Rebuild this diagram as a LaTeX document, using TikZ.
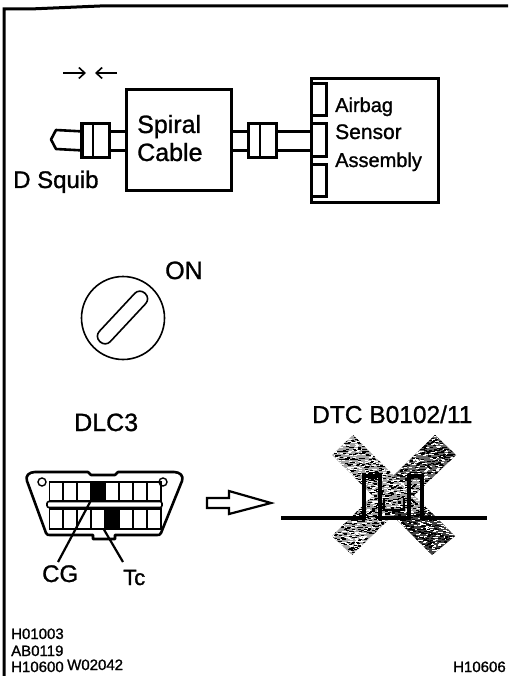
\documentclass[tikz,border=0pt]{standalone}
\usepackage{fontspec}
\setmainfont{Liberation Sans}[RawFeature={embolden=1.1}]
\usetikzlibrary{arrows.meta}
\tikzset{
  ln/.style={draw=black,line width=2.6pt},
  bx/.style={ln,fill=white,inner sep=0pt,anchor=north west,minimum width=#1},
  lbl/.style={anchor=base west,inner sep=0pt,font=\fontsize{#1}{#1}\selectfont},
  pt/.style={-{Straight Barb[length=6pt,width=11pt,line width=1.6pt]},line width=1.8pt},
}
\begin{document}
\begin{tikzpicture}[x=1pt,y=-1pt]
\useasboundingbox (0,0) rectangle (508,676);
% frame
\coordinate (f0) at (4,676); \coordinate (f1) at (4,9); \coordinate (f2) at (30,9);
\coordinate (f3) at (100,6); \coordinate (f4) at (508,6);
\draw[line width=3pt] (f0) -- (f1) -- (f2) -- (f3) -- (f4);
% top row
\coordinate (aR0) at (63,73); \coordinate (aR1) at (86,73);
\coordinate (aL0) at (117,73); \coordinate (aL1) at (95,73);
\draw[pt] (aR0) -- (aR1);
\draw[pt] (aL0) -- (aL1);
\node[bx=105pt,minimum height=101pt,line width=3pt] (spiral) at (125,88) {};
\node[bx=127pt,minimum height=124pt] (sensor) at (310,77) {};
\node[bx=15pt,minimum height=32pt] (s1) at (310,82) {};
\node[bx=15pt,minimum height=33pt] (s2) at (310,122) {};
\node[bx=15pt,minimum height=32pt] (s3) at (310,163) {};
\node[bx=28pt,minimum height=34pt] (c1) at (80,122.5) {};
\node[bx=28pt,minimum height=34pt] (c2) at (247,122.5) {};
\draw[ln] (83,122.5) -- (83,156.5) (93,122.5) -- (93,156.5);
\draw[ln] (260,122.5) -- (260,156.5) ;
\foreach \s in {-9.5,9.5}{
  \draw[ln] ([yshift=\s pt]c1.east) -- ([yshift=\s pt]c1.east -| spiral.west);
  \draw[ln] ([yshift=\s pt]spiral.east |- c2.east) -- ([yshift=\s pt]c2.west);
  \draw[ln] ([yshift=\s pt]c2.east) -- ([yshift=\s pt]c2.east -| s2.west);
}
\coordinate (tip) at (51,139.5);
\draw[ln,line join=round] ([yshift=9.5pt]c1.west) -- (56,130) -- (tip) -- (56,149) -- ([yshift=-9.5pt]c1.west);
\node[lbl=25] (tSpiral) at (137,133) {Spiral};
\node[lbl=25] (tCable) at (137,161) {Cable};
\node[lbl=24] (tSquib) at (13,188) {D Squib};
\node[lbl=20] (tAir) at (335,112) {Airbag};
\node[lbl=21] (tSen) at (335,139) {Sensor};
\node[lbl=20] (tAss) at (335,167) {Assembly};
% key
\node[lbl=25] (tOn) at (165,279) {ON};
\node[draw=black,line width=1.6pt,circle,minimum size=83pt,inner sep=0pt] (key) at (123,318) {};
\node[draw=black,line width=1.6pt,fill=white,rounded corners=7pt,minimum width=66pt,minimum height=15pt,inner sep=0pt,rotate=47] (slot) at (122.5,317.5) {};
% DLC3
\node[lbl=25] (tDlc) at (74,431) {DLC3};
\draw[ln,line join=round] (35,472) -- (88,472) -- (91,475) -- (115,475) -- (118,472) -- (174,472)
  .. controls (180,472) and (184,476) .. (182,481) -- (161,533) .. controls (160,535) and (159,535) .. (157,535)
  -- (115,535) -- (115,539) -- (93,539) -- (93,535) -- (50,535) .. controls (48,535) and (47,535) .. (46,533)
  -- (27,481) .. controls (25,476) and (29,472) .. (35,472) -- cycle;
\foreach \x in {0,...,7}{
  \node[draw=black,line width=1.8pt,inner sep=0pt,anchor=north west,minimum width=13.9pt,minimum height=19pt] (u\x) at ({48.5+\x*13.9},481) {};
  \node[draw=black,line width=1.8pt,inner sep=0pt,anchor=north west,minimum width=13.9pt,minimum height=20pt] (d\x) at ({48.5+\x*13.9},508) {};
}
\fill[black] (u3.north west) rectangle (u3.south east);
\fill[black] (d4.north west) rectangle (d4.south east);
\node[draw=black,fill=white,line width=1.6pt,rounded corners=2pt,minimum width=115pt,minimum height=6pt,inner sep=0pt] (bar) at (104.5,504.5) {};
\node[draw=black,line width=1.4pt,circle,minimum size=8pt,inner sep=0pt] (h1) at (42,482) {};
\node[draw=black,line width=1.4pt,circle,minimum size=8pt,inner sep=0pt] (h2) at (163,482) {};
\node[lbl=24] (tCG) at (42,582) {CG};
\node[lbl=22] (tTc) at (123,585) {Tc};
\coordinate (cgEnd) at (58,562);
\coordinate (tcEnd) at (123,562);
\draw[line width=2.2pt] (u3.south west) -- (cgEnd);
\draw[line width=2.2pt] (d4.south west) -- (tcEnd);
% hollow arrow
\draw[line width=2.2pt,line join=miter,fill=white] (207,498) -- (229,498) -- (229,491) -- (271,503) -- (229,514) -- (229,508) -- (207,508) -- cycle;
% DTC
\node[lbl=24.5] (tDtc) at (312,423) {DTC B0102/11};
% crossed out signal
\begin{scope}
\clip (332,455) -- (353,435) -- (455,536) -- (432,555) -- cycle
      (435,435) -- (456,455) -- (352,555) -- (332,536) -- cycle;
\fill[black!35] (325,430) rectangle (465,560);
\fill[black!75] (394,512) -- (465,512) -- (465,560) -- (394,560) -- cycle;
\fill[black!60] (394,430) -- (465,430) -- (465,480) -- (394,480) -- cycle;
\pgfmathsetseed{7}
\foreach \i in {1,...,1700}{
  \pgfmathsetmacro\rx{round(330+130*rnd)}
  \pgfmathsetmacro\ry{round(433+125*rnd)}
  \fill[white] (\rx,\ry) rectangle ++(2.6,1.3);
}
\foreach \i in {1,...,2000}{
  \pgfmathsetmacro\rx{round(330+130*rnd)}
  \pgfmathsetmacro\ry{round(433+125*rnd)}
  \fill[black] (\rx,\ry) rectangle ++(2.6,1.3);
}
\end{scope}
\coordinate (sigL) at (281,518); \coordinate (sigR) at (487,518);
\draw[line width=4pt,line join=miter] (sigL) -- (364,518) -- (364,476) -- (380,476) -- (380,518) -- (409,518) -- (409,476) -- (422,476) -- (422,518) -- (sigR);
\draw[line width=2.2pt] (384,498) -- (384,510) -- (404,510) -- (404,498);
% footer codes
\node[lbl=15] (c01) at (11,639) {H01003};
\node[lbl=15] (c02) at (11,656) {AB0119};
\node[lbl=15] (c03) at (11,672) {H10600};
\node[lbl=15] (c04) at (67,670) {W02042};
\node[lbl=15] (c05) at (453,672) {H10606};
\end{tikzpicture}
\end{document}
